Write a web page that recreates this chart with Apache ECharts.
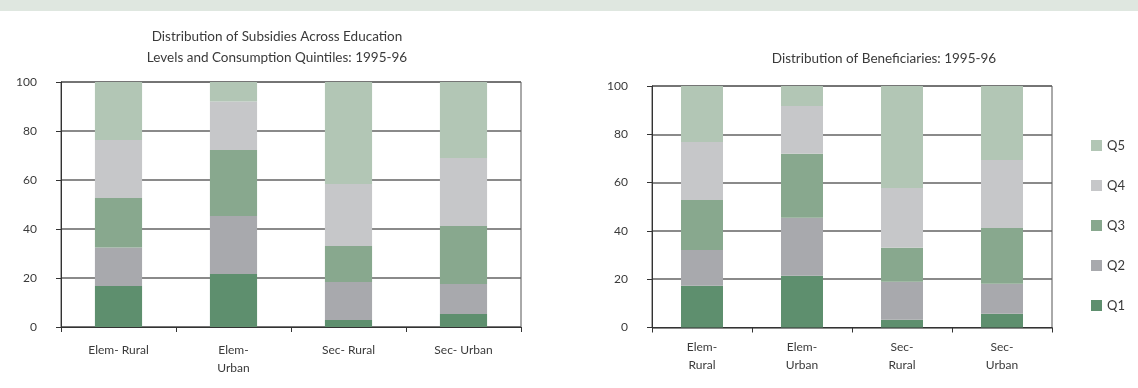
<!DOCTYPE html>
<html>
<head>
<meta charset="utf-8">
<script src="https://cdn.jsdelivr.net/npm/echarts@6/dist/echarts.min.js"></script>
<style>
  html, body { margin: 0; padding: 0; background: #fff; }
  #chart { width: 1138px; height: 388px; }
</style>
</head>
<body>
<div id="chart"></div>
<script>
// categories
var subsidyCats = ['Elem- Rural', 'Elem-\nUrban', 'Sec- Rural', 'Sec- Urban']
var benefCats = ['Elem-\nRural', 'Elem-\nUrban', 'Sec-\nRural', 'Sec-\nUrban']
var quintiles = ['Q1', 'Q2', 'Q3', 'Q4', 'Q5']
var yTicks = [0, 20, 40, 60, 80, 100]

// distribution of subsidies (%)
var subsidyQ1 = [16.7, 21.6, 2.9, 5.3]
var subsidyQ2 = [15.7, 23.7, 15.5, 12.3]
var subsidyQ3 = [20.3, 26.9, 14.7, 23.6]
var subsidyQ4 = [23.6, 19.8, 25.3, 27.8]
var subsidyQ5 = [23.7, 8.0, 41.6, 31.0]

// distribution of beneficiaries (%)
var benefQ1 = [17.3, 21.4, 3.2, 5.7]
var benefQ2 = [14.8, 24.0, 15.7, 12.4]
var benefQ3 = [20.7, 26.5, 14.1, 23.1]
var benefQ4 = [24.0, 19.8, 24.8, 28.2]
var benefQ5 = [23.2, 8.3, 42.2, 30.6]

var colors = ['#5e8f6e', '#a8a9ad', '#88a88e', '#c6c7c9', '#b2c6b5']
var font = 'Lato, "Open Sans", sans-serif'
var textColor = '#3a3a3a'

function makeSeries(name, data, idx, gridIdx) {
  return {
    name: name,
    type: 'bar',
    stack: 'g' + gridIdx,
    xAxisIndex: gridIdx,
    yAxisIndex: gridIdx,
    barWidth: gridIdx === 0 ? '41%' : '42%',
    itemStyle: { color: colors[idx] },
    data: data
  }
}

function xAxisFor(cats, gridIdx, margin) {
  return {
    type: 'category',
    gridIndex: gridIdx,
    data: cats,
    axisLine: { lineStyle: { color: '#333', width: 1 } },
    axisTick: { show: true, length: 5, lineStyle: { color: '#333' } },
    axisLabel: { color: textColor, fontFamily: font, fontSize: 12, lineHeight: 18, margin: margin },
    splitLine: { show: false }
  }
}

function yAxisFor(gridIdx, margin) {
  return {
    type: 'value',
    gridIndex: gridIdx,
    min: yTicks[0],
    max: yTicks[yTicks.length - 1],
    interval: 20,
    axisLine: { show: true, lineStyle: { color: '#333', width: 1 } },
    axisTick: { show: true, length: 5, lineStyle: { color: '#333' } },
    axisLabel: { color: textColor, fontFamily: font, fontSize: 12, margin: margin },
    splitLine: { show: true, lineStyle: { color: '#636363', width: 1.6 } }
  }
}

var subsidyData = [subsidyQ1, subsidyQ2, subsidyQ3, subsidyQ4, subsidyQ5]
var benefData = [benefQ1, benefQ2, benefQ3, benefQ4, benefQ5]
var series = []
quintiles.forEach(function (q, i) {
  series.push(makeSeries(q, subsidyData[i], i, 0))
})
quintiles.forEach(function (q, i) {
  series.push(makeSeries(q, benefData[i], i, 1))
})

var myChart = echarts.init(document.getElementById('chart'), null, { renderer: 'canvas' })
var option = {
  animation: false,
  backgroundColor: '#fff',
  graphic: [
    { type: 'rect', left: 0, top: 0, shape: { width: 1138, height: 11 }, style: { fill: '#dfe7e0' } }
  ],
  title: [
    {
      text: 'Distribution of Subsidies Across Education\nLevels and Consumption Quintiles: 1995-96',
      left: 272,
      top: 21,
      textAlign: 'center',
      textStyle: { color: textColor, fontFamily: font, fontSize: 13.5, fontWeight: 'normal', lineHeight: 21 }
    },
    {
      text: 'Distribution of Beneficiaries: 1995-96',
      left: 879,
      top: 43,
      textAlign: 'center',
      textStyle: { color: textColor, fontFamily: font, fontSize: 13.5, fontWeight: 'normal', lineHeight: 21 }
    }
  ],
  legend: {
    data: ['Q5', 'Q4', 'Q3', 'Q2', 'Q1'],
    orient: 'vertical',
    left: 1086,
    top: 134,
    itemWidth: 11,
    itemHeight: 11,
    itemGap: 27,
    icon: 'rect',
    textStyle: { color: textColor, fontFamily: font, fontSize: 13, lineHeight: 11 }
  },
  grid: [
    { left: 61, right: 617, top: 82, bottom: 61, show: true, borderColor: '#555', borderWidth: 1 },
    { left: 652, right: 86, top: 86, bottom: 60.5, show: true, borderColor: '#555', borderWidth: 1 }
  ],
  xAxis: [
    xAxisFor(subsidyCats, 0, 14),
    xAxisFor(benefCats, 1, 11)
  ],
  yAxis: [
    yAxisFor(0, 24),
    yAxisFor(1, 24)
  ],
  series: series
}
myChart.setOption(option)
</script>
</body>
</html>
